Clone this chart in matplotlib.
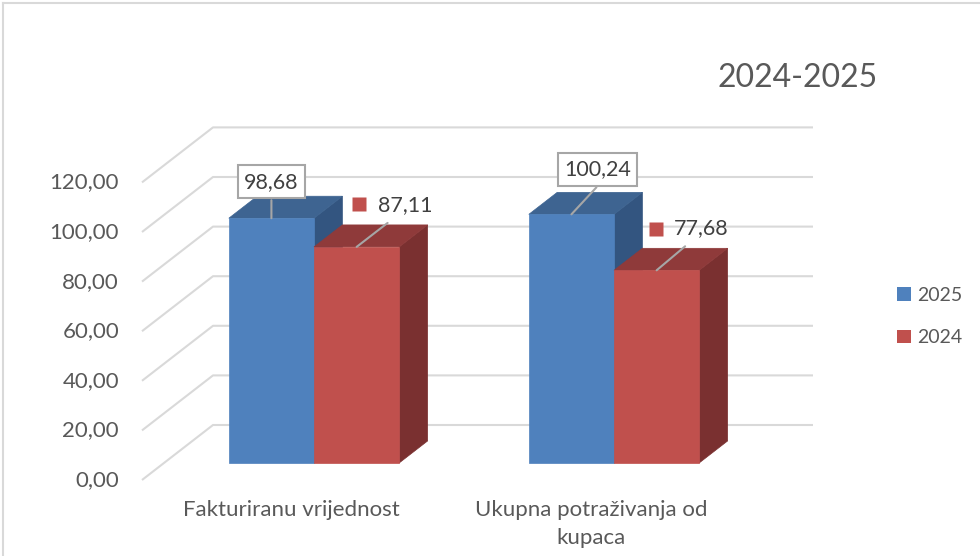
import matplotlib
matplotlib.use("Agg")
import matplotlib.pyplot as plt
from matplotlib.patches import Polygon, Patch
from matplotlib.transforms import offset_copy
from matplotlib.lines import Line2D

# ---------------- data ----------------
categories = ["Fakturiranu vrijednost", "Ukupna potraživanja od\nkupaca"]
series_names = ["2025", "2024"]
values_2025 = [98.68, 100.24]
values_2024 = [87.11, 77.68]
yticks = [0, 20, 40, 60, 80, 100, 120]
title = "2024-2025"

# ---------------- style ----------------
plt.rcParams["font.family"] = ["Lato", "DejaVu Sans"]
TXT = "#595959"
LBL = "#404040"
GRID = "#D9D9D9"
blue = dict(front="#4F81BD", top="#3E6491", side="#335580")
red = dict(front="#C0504D", top="#8F3A3A", side="#7A3030")

W, H = 980, 556
fig = plt.figure(figsize=(W / 100, H / 100), dpi=100)
ax = fig.add_axes([0, 0, 1, 1])
ax.set_axis_off()

X0, PXU = 142, 300.0   # pixel position of category-axis origin, px per category
Y0, PYV = 480, 2.48    # pixel (from top) of value 0, px per value unit
ax.set_xlim(-X0 / PXU, (W - X0) / PXU)
ax.set_ylim((Y0 - H) / PYV, Y0 / PYV)

DX, DY = 71 / PXU, 55 / PYV   # full depth vector (oblique projection)
ncat = len(categories)


def P(x, v, z):
    return (x + z * DX, v + z * DY)


# chart frame
fig.add_artist(Line2D([3 / W, 1.0], [1 - 3 / H, 1 - 3 / H], color=GRID, lw=1.5,
                      transform=fig.transFigure))
fig.add_artist(Line2D([3 / W, 3 / W], [1 - 3 / H, 0], color=GRID, lw=1.5,
                      transform=fig.transFigure))

# walls gridlines
for t in yticks:
    pts = [P(0, t, 0), P(0, t, 1), P(ncat, t, 1)]
    ax.plot([p[0] for p in pts], [p[1] for p in pts], color=GRID, lw=1.5, zorder=1,
            solid_capstyle="butt")
    ax.annotate(f"{t:.2f}".replace(".", ","), xy=P(0, t, 0), xytext=(-23, 0),
                textcoords="offset pixels", ha="right", va="center",
                fontsize=16, color=TXT)

# bars
w = 0.284
f1, f2 = 0.31, 0.71
series = [(values_2025, blue), (values_2024, red)]
for j, (vals, col) in enumerate(series):
    for i, v in enumerate(vals):
        c = 0.5 + i
        xl = c - w + j * w
        xr = xl + w
        front = [P(xl, 0, f1), P(xr, 0, f1), P(xr, v, f1), P(xl, v, f1)]
        top = [P(xl, v, f1), P(xr, v, f1), P(xr, v, f2), P(xl, v, f2)]
        side = [P(xr, 0, f1), P(xr, v, f1), P(xr, v, f2), P(xr, 0, f2)]
        z = 2 + j
        for poly, fc in ((side, col["side"]), (top, col["top"]), (front, col["front"])):
            ax.add_patch(Polygon(poly, closed=True, fc=fc, ec=fc, lw=0.5, zorder=z))

# category labels
for i, cat in enumerate(categories):
    ax.annotate(cat, xy=P(0.5 + i, 0, 0), xytext=(-1, -20), textcoords="offset pixels",
                ha="center", va="top", fontsize=16, color=TXT, linespacing=1.5)

# data labels
box_label_offsets = [((0, 36.5), (0, 18)), ((26, 45), (25, 27))]
key_label_offsets = [((2.5, 42.5), (21, 42), (31, 24)), ((-1, 41.5), (17.5, 42), (28.5, 24))]
LEAD = "#A6A6A6"
for i, v in enumerate(values_2025):
    anchor = P(0.5 + i - w / 2, v, f1)
    (tx, ty), (lx, ly) = box_label_offsets[i]
    ax.annotate("", xy=anchor, xytext=(lx, ly), textcoords="offset pixels",
                arrowprops=dict(arrowstyle="-", color=LEAD, lw=1.5, shrinkA=0, shrinkB=0),
                zorder=6)
    ax.annotate(f"{v:.2f}".replace(".", ","), xy=anchor, xytext=(tx, ty),
                textcoords="offset pixels", ha="center", va="center", fontsize=15.5,
                color=LBL, zorder=7,
                bbox=dict(boxstyle="square,pad=0.3", fc="white", ec=LEAD, lw=1.5))
for i, v in enumerate(values_2024):
    anchor = P(0.5 + i + w / 2, v, f1)
    (kx, ky), (tx, ty), (lx, ly) = key_label_offsets[i]
    ax.annotate("", xy=anchor, xytext=(lx, ly), textcoords="offset pixels",
                arrowprops=dict(arrowstyle="-", color=LEAD, lw=1.5, shrinkA=0, shrinkB=0),
                zorder=6)
    tr = offset_copy(ax.transData, fig=fig, x=kx, y=ky, units="dots")
    ax.plot([anchor[0]], [anchor[1]], marker="s", ms=9.4, mfc=red["front"], mec="none",
            transform=tr, zorder=7)
    ax.annotate(f"{v:.2f}".replace(".", ","), xy=anchor, xytext=(tx, ty),
                textcoords="offset pixels", ha="left", va="center", fontsize=15.5,
                color=LBL, zorder=7)

# title
fig.text(798 / W, 1 - 78 / H, title, ha="center", va="center", fontsize=23, color=TXT)

# legend
handles = [Patch(fc=blue["front"], ec="none"), Patch(fc=red["front"], ec="none")]
fig.legend(handles, series_names, loc="upper left", bbox_to_anchor=(897 / W, 1 - 287 / H),
           frameon=False, handlelength=0.72, handleheight=0.72, handletextpad=0.3,
           labelspacing=1.3, borderpad=0, borderaxespad=0, fontsize=14, labelcolor=TXT)

fig.savefig("out.png", dpi=100)
